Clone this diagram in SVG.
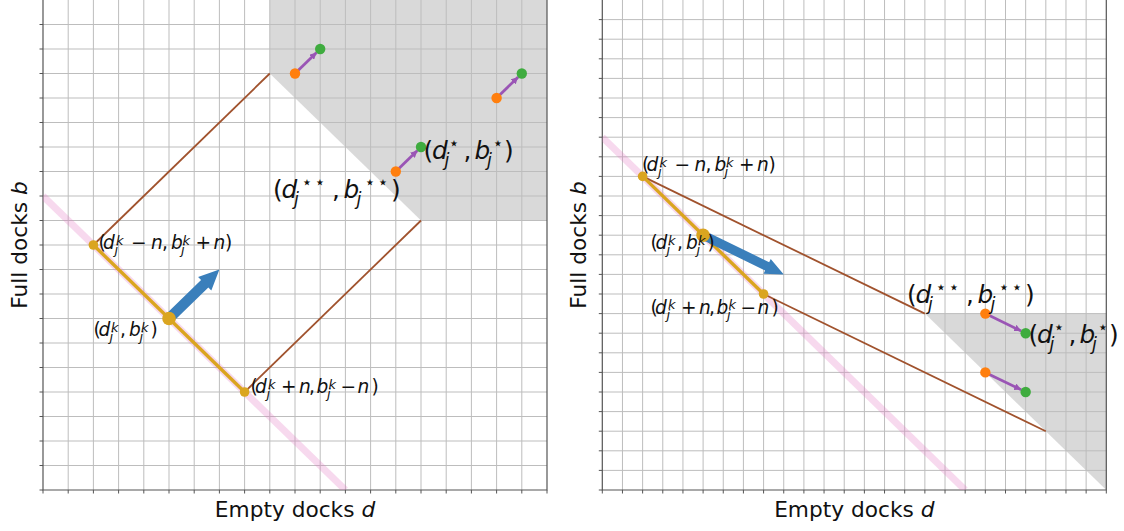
<svg xmlns="http://www.w3.org/2000/svg" width="1124" height="531" viewBox="0 0 1124 531">
<style>
.grid{fill:none;stroke:#bdbdbd;stroke-width:1}
.spine{fill:none;stroke:#555;stroke-width:1.2}
.tick{fill:none;stroke:#555;stroke-width:1}
.shade{fill:#808080;fill-opacity:0.3}
.pink{stroke:#e377c2;stroke-opacity:0.28;stroke-width:7;fill:none}
.brown{stroke:#a0522d;stroke-width:1.8;fill:none}
.seg{stroke:#daa520;stroke-width:3.4;fill:none}
.gold{fill:#daa520}
.blue{fill:#3a7fbb}
.mv{stroke:#9a55b5;stroke-width:2.8;fill:none}
.or{fill:#ff7f0e}
.gr{fill:#3fac3f}
text{font-family:"DejaVu Sans","Liberation Sans",sans-serif;fill:#111}
.ax{font-size:21.7px}
.m{font-size:18.6px}
.b{font-size:24.8px}
.i{font-style:italic}
.s{font-size:13px;font-style:italic}
.bs{font-size:17.4px;font-style:italic}
.st{font-size:17.4px}
</style>
<defs>
<marker id="ah" viewBox="0 0 10 10" refX="10" refY="5" markerWidth="7" markerHeight="7" markerUnits="userSpaceOnUse" orient="auto"><path d="M0,0L10,5L0,10z" fill="#9a55b5"/></marker>
<clipPath id="cl"><rect x="43" y="0" width="504" height="490"/></clipPath>
<clipPath id="cr"><rect x="602.3" y="0" width="504" height="490"/></clipPath>
</defs>

<g id="left-panel">
<rect x="43" y="0" width="504" height="490" fill="#fff"/>
<polygon id="left-region" class="shade" points="269.8,0 269.8,73.5 421,220.5 547,220.5 547,0"/>
<path class="grid" d="M68.2 0V490M93.4 0V490M118.6 0V490M143.8 0V490M169 0V490M194.2 0V490M219.4 0V490M244.6 0V490M269.8 0V490M295 0V490M320.2 0V490M345.4 0V490M370.6 0V490M395.8 0V490M421 0V490M446.2 0V490M471.4 0V490M496.6 0V490M521.8 0V490M43 465.5H547M43 441H547M43 416.5H547M43 392H547M43 367.5H547M43 343H547M43 318.5H547M43 294H547M43 269.5H547M43 245H547M43 220.5H547M43 196H547M43 171.5H547M43 147H547M43 122.5H547M43 98H547M43 73.5H547M43 49H547M43 24.5H547"/>
<path class="spine" d="M43 0V490H547V0"/>
<path class="tick" d="M43 490v3.5M68.2 490v3.5M93.4 490v3.5M118.6 490v3.5M143.8 490v3.5M169 490v3.5M194.2 490v3.5M219.4 490v3.5M244.6 490v3.5M269.8 490v3.5M295 490v3.5M320.2 490v3.5M345.4 490v3.5M370.6 490v3.5M395.8 490v3.5M421 490v3.5M446.2 490v3.5M471.4 490v3.5M496.6 490v3.5M521.8 490v3.5M547 490v3.5M39.5 490H43M39.5 465.5H43M39.5 441H43M39.5 416.5H43M39.5 392H43M39.5 367.5H43M39.5 343H43M39.5 318.5H43M39.5 294H43M39.5 269.5H43M39.5 245H43M39.5 220.5H43M39.5 196H43M39.5 171.5H43M39.5 147H43M39.5 122.5H43M39.5 98H43M39.5 73.5H43M39.5 49H43M39.5 24.5H43"/>
<g clip-path="url(#cl)">
<line class="pink" x1="43" y1="196" x2="345.4" y2="490"/>
</g>
</g>

<g id="left-connectors">
<line class="brown" x1="93.4" y1="245" x2="269.8" y2="73.5"/>
<line class="brown" x1="244.6" y1="392" x2="421" y2="220.5"/>
<line class="seg" x1="93.4" y1="245" x2="244.6" y2="392"/>
<polygon class="blue" transform="translate(169,318.5) rotate(-44.2)" points="0,-5.2 49.8,-5.2 49.8,-9.5 70.3,0 49.8,9.5 49.8,5.2 0,5.2"/>
<line class="mv" x1="295" y1="73.5" x2="316.6" y2="52.5" marker-end="url(#ah)"/>
<line class="mv" x1="496.6" y1="98" x2="518.2" y2="77" marker-end="url(#ah)"/>
<line class="mv" x1="395.8" y1="171.5" x2="417.4" y2="150.5" marker-end="url(#ah)"/>
</g>

<g id="left-nodes">
<circle class="gold" cx="93.4" cy="245" r="4.8"/>
<circle class="gold" cx="244.6" cy="392" r="4.8"/>
<circle class="gold" cx="169" cy="318.5" r="6.8"/>
<circle class="or" cx="295" cy="73.5" r="5.2"/>
<circle class="gr" cx="320.2" cy="49" r="5.2"/>
<circle class="or" cx="496.6" cy="98" r="5.2"/>
<circle class="gr" cx="521.8" cy="73.5" r="5.2"/>
<circle class="or" cx="395.8" cy="171.5" r="5.2"/>
<circle class="gr" cx="421" cy="147" r="5.2"/>
</g>

<g id="left-labels">
<text class="m" y="249"><tspan x="98.5">(</tspan><tspan x="103" class="i">d</tspan><tspan x="114.5" y="254" class="s">j</tspan><tspan x="116" y="244.5" class="s">k</tspan><tspan x="131" y="249">−</tspan><tspan x="151" class="i">n</tspan><tspan x="162">,</tspan><tspan x="171" class="i">b</tspan><tspan x="181" y="254" class="s">j</tspan><tspan x="182.5" y="244.5" class="s">k</tspan><tspan x="195.5" y="249">+</tspan><tspan x="213.5" class="i">n</tspan><tspan x="225">)</tspan></text>
<text class="m" y="336"><tspan x="93.5">(</tspan><tspan x="98.5" class="i">d</tspan><tspan x="109.5" y="341" class="s">j</tspan><tspan x="111" y="331.5" class="s">k</tspan><tspan x="120" y="336">,</tspan><tspan x="129" class="i">b</tspan><tspan x="139.5" y="341" class="s">j</tspan><tspan x="141" y="331.5" class="s">k</tspan><tspan x="150.5" y="336">)</tspan></text>
<text class="m" y="393"><tspan x="250.5">(</tspan><tspan x="255" class="i">d</tspan><tspan x="266.5" y="398" class="s">j</tspan><tspan x="268" y="388.5" class="s">k</tspan><tspan x="281" y="393">+</tspan><tspan x="299" class="i">n</tspan><tspan x="309">,</tspan><tspan x="316.5" class="i">b</tspan><tspan x="327" y="398" class="s">j</tspan><tspan x="328.5" y="388.5" class="s">k</tspan><tspan x="340.5" y="393">−</tspan><tspan x="357.5" class="i">n</tspan><tspan x="371.5">)</tspan></text>
<text class="b" y="159"><tspan x="423.5">(</tspan><tspan x="432" class="i">d</tspan><tspan x="444.5" y="165.7" class="bs">j</tspan><tspan x="448.5" y="149" class="st">⋆</tspan><tspan x="463.5" y="159">,</tspan><tspan x="474.5" class="i">b</tspan><tspan x="487" y="165.7" class="bs">j</tspan><tspan x="492.5" y="149" class="st">⋆</tspan><tspan x="504" y="159">)</tspan></text>
<text class="b" y="198"><tspan x="273">(</tspan><tspan x="281.5" class="i">d</tspan><tspan x="294" y="204.7" class="bs">j</tspan><tspan x="301.5" y="188" class="st">⋆</tspan><tspan x="314.5" y="188" class="st">⋆</tspan><tspan x="332" y="198">,</tspan><tspan x="343.5" class="i">b</tspan><tspan x="356.5" y="204.7" class="bs">j</tspan><tspan x="364.5" y="188" class="st">⋆</tspan><tspan x="377.5" y="188" class="st">⋆</tspan><tspan x="391" y="198">)</tspan></text>
<text class="ax" x="295" y="517" text-anchor="middle">Empty docks <tspan class="i">d</tspan></text>
<text class="ax" transform="translate(27,245) rotate(-90)" text-anchor="middle">Full docks <tspan class="i">b</tspan></text>
</g>

<g id="right-panel">
<rect x="602.3" y="0" width="504" height="490" fill="#fff"/>
<polygon id="right-region" class="shade" points="924.86,313.6 1106.3,313.6 1106.3,490"/>
<path class="grid" d="M622.46 0V490M642.62 0V490M662.78 0V490M682.94 0V490M703.1 0V490M723.26 0V490M743.42 0V490M763.58 0V490M783.74 0V490M803.9 0V490M824.06 0V490M844.22 0V490M864.38 0V490M884.54 0V490M904.7 0V490M924.86 0V490M945.02 0V490M965.18 0V490M985.34 0V490M1005.5 0V490M1025.66 0V490M1045.82 0V490M1065.98 0V490M1086.14 0V490M602.3 470.4H1106.3M602.3 450.8H1106.3M602.3 431.2H1106.3M602.3 411.6H1106.3M602.3 392H1106.3M602.3 372.4H1106.3M602.3 352.8H1106.3M602.3 333.2H1106.3M602.3 313.6H1106.3M602.3 294H1106.3M602.3 274.4H1106.3M602.3 254.8H1106.3M602.3 235.2H1106.3M602.3 215.6H1106.3M602.3 196H1106.3M602.3 176.4H1106.3M602.3 156.8H1106.3M602.3 137.2H1106.3M602.3 117.6H1106.3M602.3 98H1106.3M602.3 78.4H1106.3M602.3 58.8H1106.3M602.3 39.2H1106.3M602.3 19.6H1106.3"/>
<path class="spine" d="M602.3 0V490H1106.3V0"/>
<path class="tick" d="M602.3 490v3.5M622.46 490v3.5M642.62 490v3.5M662.78 490v3.5M682.94 490v3.5M703.1 490v3.5M723.26 490v3.5M743.42 490v3.5M763.58 490v3.5M783.74 490v3.5M803.9 490v3.5M824.06 490v3.5M844.22 490v3.5M864.38 490v3.5M884.54 490v3.5M904.7 490v3.5M924.86 490v3.5M945.02 490v3.5M965.18 490v3.5M985.34 490v3.5M1005.5 490v3.5M1025.66 490v3.5M1045.82 490v3.5M1065.98 490v3.5M1086.14 490v3.5M1106.3 490v3.5M598.8 490H602.3M598.8 470.4H602.3M598.8 450.8H602.3M598.8 431.2H602.3M598.8 411.6H602.3M598.8 392H602.3M598.8 372.4H602.3M598.8 352.8H602.3M598.8 333.2H602.3M598.8 313.6H602.3M598.8 294H602.3M598.8 274.4H602.3M598.8 254.8H602.3M598.8 235.2H602.3M598.8 215.6H602.3M598.8 196H602.3M598.8 176.4H602.3M598.8 156.8H602.3M598.8 137.2H602.3M598.8 117.6H602.3M598.8 98H602.3M598.8 78.4H602.3M598.8 58.8H602.3M598.8 39.2H602.3M598.8 19.6H602.3"/>
<g clip-path="url(#cr)">
<line class="pink" x1="602.3" y1="137.2" x2="965.18" y2="490"/>
</g>
</g>

<g id="right-connectors">
<line class="brown" x1="642.62" y1="176.4" x2="924.86" y2="313.6"/>
<line class="brown" x1="763.58" y1="294" x2="1045.82" y2="431.2"/>
<line class="seg" x1="642.62" y1="176.4" x2="763.58" y2="294"/>
<polygon class="blue" transform="translate(703.1,235.2) rotate(25.9)" points="0,-4.6 71.2,-4.6 71.2,-8.2 89.7,0 71.2,8.2 71.2,4.6 0,4.6"/>
<line class="mv" x1="985.34" y1="313.6" x2="1021.2" y2="331" marker-end="url(#ah)"/>
<line class="mv" x1="985.34" y1="372.4" x2="1021.2" y2="389.8" marker-end="url(#ah)"/>
</g>

<g id="right-nodes">
<circle class="gold" cx="642.62" cy="176.4" r="4.8"/>
<circle class="gold" cx="763.58" cy="294" r="4.8"/>
<circle class="gold" cx="703.1" cy="235.2" r="6.8"/>
<circle class="or" cx="985.34" cy="313.6" r="5.2"/>
<circle class="gr" cx="1025.66" cy="333.2" r="5.2"/>
<circle class="or" cx="985.34" cy="372.4" r="5.2"/>
<circle class="gr" cx="1025.66" cy="392" r="5.2"/>
</g>

<g id="right-labels">
<text class="m" y="171"><tspan x="642">(</tspan><tspan x="646.5" class="i">d</tspan><tspan x="658" y="176" class="s">j</tspan><tspan x="659.5" y="166.5" class="s">k</tspan><tspan x="674.5" y="171">−</tspan><tspan x="694.5" class="i">n</tspan><tspan x="705.5">,</tspan><tspan x="714.5" class="i">b</tspan><tspan x="724.5" y="176" class="s">j</tspan><tspan x="726" y="166.5" class="s">k</tspan><tspan x="739" y="171">+</tspan><tspan x="757" class="i">n</tspan><tspan x="768.5">)</tspan></text>
<text class="m" y="249"><tspan x="650.5">(</tspan><tspan x="655.5" class="i">d</tspan><tspan x="666.5" y="254" class="s">j</tspan><tspan x="668" y="244.5" class="s">k</tspan><tspan x="677" y="249">,</tspan><tspan x="686" class="i">b</tspan><tspan x="696.5" y="254" class="s">j</tspan><tspan x="698" y="244.5" class="s">k</tspan><tspan x="707.5" y="249">)</tspan></text>
<text class="m" y="313.5"><tspan x="650.5">(</tspan><tspan x="655" class="i">d</tspan><tspan x="666.5" y="318.5" class="s">j</tspan><tspan x="668" y="309" class="s">k</tspan><tspan x="681" y="313.5">+</tspan><tspan x="699" class="i">n</tspan><tspan x="709">,</tspan><tspan x="716.5" class="i">b</tspan><tspan x="727" y="318.5" class="s">j</tspan><tspan x="728.5" y="309" class="s">k</tspan><tspan x="740.5" y="313.5">−</tspan><tspan x="757.5" class="i">n</tspan><tspan x="771.5">)</tspan></text>
<text class="b" y="303"><tspan x="907">(</tspan><tspan x="915.5" class="i">d</tspan><tspan x="928" y="309.7" class="bs">j</tspan><tspan x="935.5" y="293" class="st">⋆</tspan><tspan x="948.5" y="293" class="st">⋆</tspan><tspan x="966" y="303">,</tspan><tspan x="977.5" class="i">b</tspan><tspan x="990.5" y="309.7" class="bs">j</tspan><tspan x="998.5" y="293" class="st">⋆</tspan><tspan x="1011.5" y="293" class="st">⋆</tspan><tspan x="1025" y="303">)</tspan></text>
<text class="b" y="343"><tspan x="1028.5">(</tspan><tspan x="1037" class="i">d</tspan><tspan x="1049.5" y="349.7" class="bs">j</tspan><tspan x="1053.5" y="333" class="st">⋆</tspan><tspan x="1068.5" y="343">,</tspan><tspan x="1079.5" class="i">b</tspan><tspan x="1092" y="349.7" class="bs">j</tspan><tspan x="1097.5" y="333" class="st">⋆</tspan><tspan x="1109" y="343">)</tspan></text>
<text class="ax" x="854.3" y="517" text-anchor="middle">Empty docks <tspan class="i">d</tspan></text>
<text class="ax" transform="translate(586,245) rotate(-90)" text-anchor="middle">Full docks <tspan class="i">b</tspan></text>
</g>
</svg>
